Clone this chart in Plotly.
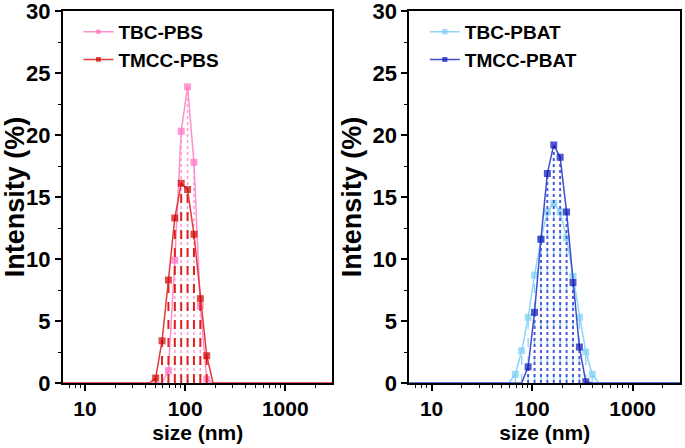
import plotly.graph_objects as go

# ---- data ----
sizes_pbs_tbc = [1, 58.77, 68.06, 78.82, 91.28, 105.7, 122.4, 141.8, 164.2, 190.1, 10000]
int_pbs_tbc = [0, 0, 1.0, 9.9, 20.3, 23.9, 17.8, 6.2, 0.3, 0, 0]

sizes_pbs_tmcc = [1, 43.82, 50.75, 58.77, 68.06, 78.82, 91.28, 105.7, 122.4, 141.8, 164.2, 190.1, 10000]
int_pbs_tmcc = [0, 0, 0.4, 3.4, 8.3, 13.3, 16.1, 15.6, 12.0, 6.8, 2.2, 0, 0]

sizes_pbat_tbc = [1, 58.77, 68.06, 78.82, 91.28, 105.7, 122.4, 141.8, 164.2, 190.1, 220.2, 255.0, 295.3, 342.0, 396.1, 458.7, 10000]
int_pbat_tbc = [0, 0, 0.7, 2.6, 5.3, 8.7, 11.6, 13.8, 14.5, 13.8, 11.7, 8.6, 5.3, 2.5, 0.7, 0, 0]

sizes_pbat_tmcc = [1, 78.82, 91.28, 105.7, 122.4, 141.8, 164.2, 190.1, 220.2, 255.0, 295.3, 342.0, 396.1, 10000]
int_pbat_tmcc = [0, 0, 1.3, 5.7, 11.6, 16.9, 19.2, 18.2, 13.8, 8.1, 2.9, 0.1, 0, 0]

x_tickvals = [10, 100, 1000]
x_ticktext = ["10", "100", "1000"]
x_minor_tickvals = [7, 8, 9, 20, 30, 40, 50, 60, 70, 80, 90,
                    200, 300, 400, 500, 600, 700, 800, 900, 2000, 3000]
y_tickvals = [0, 5, 10, 15, 20, 25, 30]

FONT = "Liberation Sans, Arial, sans-serif"

fig = go.Figure()


def add_series(xs, ys, name, line_color, marker_color, drop_color, drop_dash, drop_width,
               xaxis, yaxis, legend):
    # drop lines
    dx, dy = [], []
    for xv, yv in zip(xs, ys):
        if yv > 0:
            dx += [xv, xv, None]
            dy += [0, yv, None]
    fig.add_trace(go.Scatter(x=dx, y=dy, mode="lines", showlegend=False, hoverinfo="skip",
                             line=dict(color=drop_color, dash=drop_dash, width=drop_width),
                             xaxis=xaxis, yaxis=yaxis))
    sizes = [7 if yv > 0 else 0 for yv in ys]
    fig.add_trace(go.Scatter(x=xs, y=ys, mode="lines+markers", name=name,
                             line=dict(color=line_color, width=1.5),
                             marker=dict(symbol="square", size=sizes, color=marker_color,
                                         line=dict(width=0)),
                             xaxis=xaxis, yaxis=yaxis, legend=legend))


add_series(sizes_pbs_tbc, int_pbs_tbc, "TBC-PBS", "#FF8FCB", "#FF6FC2", "#FF9AD0", "dot", 1.5,
           "x", "y", "legend")
add_series(sizes_pbs_tmcc, int_pbs_tmcc, "TMCC-PBS", "#E03A3A", "#D00000", "#E02020", "dash", 2,
           "x", "y", "legend")
add_series(sizes_pbat_tbc, int_pbat_tbc, "TBC-PBAT", "#8FD6F7", "#78CFF7", "#7FCCF0", "dash", 1.2,
           "x2", "y2", "legend2")
add_series(sizes_pbat_tmcc, int_pbat_tmcc, "TMCC-PBAT", "#3F4FD0", "#0A14B8", "#4A5AD8", "dot", 2,
           "x2", "y2", "legend2")

xtickfont = dict(family=FONT, size=21, color="black", weight="bold")
ytickfont = dict(family=FONT, size=22, color="black", weight="bold")
xtitlefont = dict(family=FONT, size=21, color="black", weight="bold")
ytitlefont = dict(family=FONT, size=27, color="black", weight="bold")

xcommon = dict(type="log", range=[0.78, 3.471], tickvals=x_tickvals, ticktext=x_ticktext,
               showline=True, mirror=True, linecolor="black", linewidth=2,
               ticks="outside", ticklen=6, tickwidth=2, tickcolor="black",
               minor=dict(tickmode="array", tickvals=x_minor_tickvals, ticks="outside",
                          ticklen=3, tickwidth=1, tickcolor="black", showgrid=False),
               showgrid=False, zeroline=False, tickfont=xtickfont, ticklabeloverflow="allow",
               automargin=False,
               title=dict(text="size (nm)", font=xtitlefont, standoff=6))
ycommon = dict(range=[0, 30], tickvals=y_tickvals,
               showline=True, mirror=True, linecolor="black", linewidth=2,
               ticks="outside", ticklen=6, tickwidth=2, tickcolor="black",
               minor=dict(dtick=2.5, ticks="outside", ticklen=3, tickwidth=1, tickcolor="black", showgrid=False),
               showgrid=False, zeroline=False, tickfont=ytickfont, ticklabeloverflow="allow",
               automargin=False,
               title=dict(text="Intensity (%)", font=ytitlefont, standoff=3))

legend_common = dict(font=dict(family=FONT, size=19, color="black", weight="bold"),
                     bgcolor="rgba(0,0,0,0)", borderwidth=0, tracegroupgap=0,
                     xanchor="left", yanchor="top", itemsizing="trace")

fig.update_layout(
    width=685, height=448,
    margin=dict(l=63, r=5, t=11, b=65, autoexpand=False),
    paper_bgcolor="white", plot_bgcolor="white",
    xaxis=dict(domain=[0, 0.4367], anchor="y", **xcommon),
    yaxis=dict(domain=[0, 1], anchor="x", **ycommon),
    xaxis2=dict(domain=[0.5615, 1], anchor="y2", **xcommon),
    yaxis2=dict(domain=[0, 1], anchor="x2", **ycommon),
    legend=dict(x=0.025, y=0.995, **legend_common),
    legend2=dict(x=0.5865, y=0.995, **legend_common),
)

fig.write_html("out.html")
